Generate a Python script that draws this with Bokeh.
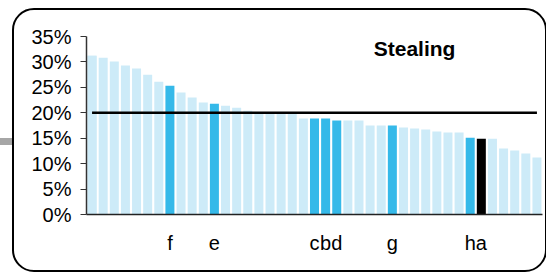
from bokeh.plotting import figure
from bokeh.models import (ColumnDataSource, FixedTicker, PrintfTickFormatter,
                          Label, Range1d, InlineStyleSheet)
from bokeh.embed import file_html
from bokeh.resources import INLINE

# ---- data ----
title_text = "Stealing"
values = [31.2, 30.8, 30.1, 29.3, 28.7, 27.5, 26.1, 25.3, 24.0, 23.0,
          22.0, 21.8, 21.4, 21.0, 20.4, 20.1, 20.0, 19.9, 19.8, 18.9,
          18.9, 18.9, 18.5, 18.5, 18.5, 17.5, 17.5, 17.5, 17.1, 16.9,
          16.7, 16.3, 16.1, 16.1, 15.1, 14.9, 14.9, 13.0, 12.6, 12.0, 11.2]
labels = ["", "", "", "", "", "", "", "f", "", "",
          "", "e", "", "", "", "", "", "", "", "",
          "c", "b", "d", "", "", "", "", "g", "", "",
          "", "", "", "", "h", "a", "", "", "", "", ""]
focus = "a"
target = 20
y_ticks = [0, 5, 10, 15, 20, 25, 30, 35]

LIGHT = "#cdebf8"
DARK = "#35b9e9"
BLACK = "#000000"
FONT = "Liberation Sans"

xs = list(range(1, len(values) + 1))
colors = [BLACK if l == focus else (DARK if l else LIGHT) for l in labels]
# the first row is repeated once (drawn twice at the same place): works around
# the SVG backend dropping the first rectangle of a bar glyph
src = ColumnDataSource(dict(x=xs[:1] + xs, top=values[:1] + values,
                            color=colors[:1] + colors))

W, H = 546, 274
p = figure(width=W, height=H, output_backend="svg", toolbar_location=None,
           x_range=Range1d(0.5, len(values) + 0.5), y_range=Range1d(0, 35),
           min_border_left=86, min_border_right=4, min_border_top=36,
           min_border_bottom=60)
p.outline_line_color = None
p.xgrid.visible = False
p.ygrid.visible = False
p.background_fill_color = "white"
p.border_fill_color = "white"

p.vbar(x="x", top="top", width=0.81, bottom=0, color="color", source=src,
       line_color=None)
p.line([xs[0], xs[-1]], [target, target], line_color="black", line_width=2.6)

ya = p.yaxis[0]
ya.ticker = FixedTicker(ticks=y_ticks)
ya.formatter = PrintfTickFormatter(format="%d%%")
ya.major_label_text_font = FONT
ya.major_label_text_font_size = "20px"
ya.major_label_text_color = "black"
ya.major_tick_out = 6
ya.major_tick_in = 0
ya.minor_tick_out = 0
ya.minor_tick_in = 0
ya.major_label_standoff = 9
ya.axis_line_color = "#333333"
ya.major_tick_line_color = "#333333"
ya.axis_line_width = 1.5

xa = p.xaxis[0]
lab_pos = [x for x, l in zip(xs, labels) if l]
xa.ticker = FixedTicker(ticks=lab_pos)
xa.major_label_overrides = {x: l for x, l in zip(xs, labels) if l}
xa.major_label_text_font = FONT
xa.major_label_text_font_size = "20px"
xa.major_label_text_color = "black"
xa.major_tick_out = 0
xa.major_tick_in = 0
xa.minor_tick_out = 0
xa.minor_tick_in = 0
xa.major_label_standoff = 17
xa.axis_line_color = "#222222"
xa.axis_line_width = 1.5

p.add_layout(Label(x=30.0, y=32.6, text=title_text, text_align="center",
                   text_baseline="alphabetic", text_font=FONT,
                   text_color="black",
                   text_font_style="bold", text_font_size="21px"))

# decorative rounded frame border and small gray mark (pure CSS decoration)
css = """
:host { position: relative; }
:host::before { content: ""; position: absolute; left: 0px; top: 138px;
  width: 13px; height: 7px; background: #a6a6a6; z-index: 10; }
:host::after { content: ""; position: absolute; left: 11.75px; top: 7.75px;
  width: 535px; height: 264.5px; box-sizing: border-box;
  border: 2.5px solid #000000; border-radius: 22px; z-index: 11;
  pointer-events: none; }
"""
p.stylesheets = [InlineStyleSheet(css=css)]

open("out.html", "w").write(file_html(p, INLINE))
